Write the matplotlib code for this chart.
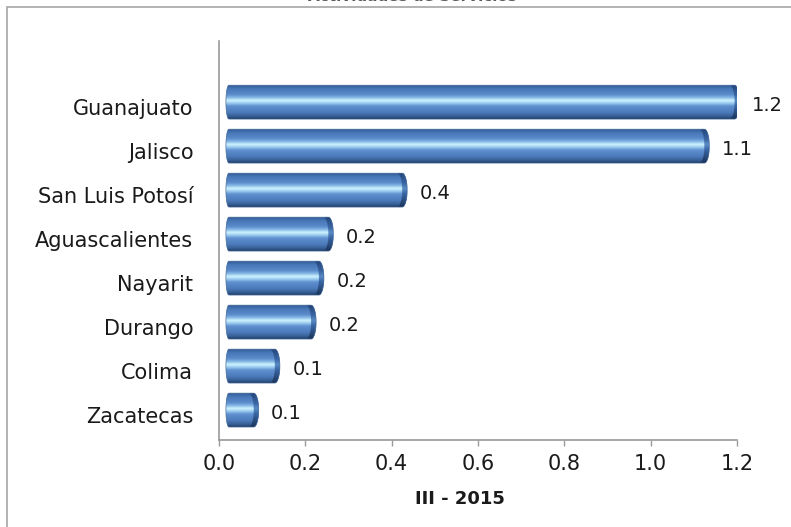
import numpy as np
import matplotlib
matplotlib.use("Agg")
import matplotlib.pyplot as plt
from matplotlib.path import Path
from matplotlib.patches import PathPatch, Rectangle
from matplotlib.colors import LinearSegmentedColormap
import matplotlib.transforms as mtransforms

# ---------------- data ----------------
states = ["Guanajuato", "Jalisco", "San Luis Potosí", "Aguascalientes",
          "Nayarit", "Durango", "Colima", "Zacatecas"]
values = [1.19, 1.12, 0.42, 0.249, 0.227, 0.209, 0.125, 0.076]
xticks = [0.0, 0.2, 0.4, 0.6, 0.8, 1.0, 1.2]
title_text = "Actividades de Servicios"
xlabel_text = "III - 2015"

# ---------------- figure ----------------
W, H, DPI = 791, 527, 100
fig = plt.figure(figsize=(W / DPI, H / DPI), dpi=DPI)
fig.patch.set_facecolor("white")

ax_l, ax_r, ax_t, ax_b = 219, 737, 41, 440
ax = fig.add_axes([ax_l / W, (H - ax_b) / H, (ax_r - ax_l) / W, (ax_b - ax_t) / H])
ax.set_facecolor("none")

n = len(states)
ypos = np.arange(n)[::-1]
bar_h = 0.77
left_off = 0.016
ylim = (-0.68, (n - 1) + 1.39)

ax.set_xlim(0, 1.2)
ax.set_ylim(*ylim)

bars = ax.barh(ypos, values, left=left_off, height=bar_h,
               color="none", edgecolor="none")

p0 = ax.transData.transform((0, 0))
p1 = ax.transData.transform((1, 1))
sx = p1[0] - p0[0]

body_cmap = LinearSegmentedColormap.from_list("cyl", [
    (0.00, "#2e5a92"),
    (0.10, "#4676b6"),
    (0.28, "#5b8bcb"),
    (0.38, "#8ebfe9"),
    (0.45, "#d2f6ff"),
    (0.52, "#a3d2f3"),
    (0.62, "#5f90d0"),
    (0.82, "#4a78b8"),
    (0.94, "#33598e"),
    (1.00, "#1f3a63"),
])
cap_cmap = LinearSegmentedColormap.from_list("cap", [
    (0.00, "#24457a"),
    (0.30, "#3a66a3"),
    (0.45, "#5a8cc6"),
    (0.60, "#3a67a5"),
    (1.00, "#1b3459"),
])
grad = np.linspace(0, 1, 256).reshape(-1, 1)


def clipped_gradient(path, cmap, extent, z):
    clip = PathPatch(path, transform=ax.transData, facecolor="none", edgecolor="none")
    ax.add_patch(clip)
    im = ax.imshow(grad, cmap=cmap, extent=extent, origin="upper",
                   aspect="auto", interpolation="bicubic", zorder=z)
    im.set_clip_path(clip)


for rect, v in zip(bars.patches, values):
    x0 = rect.get_x()
    x1 = x0 + rect.get_width()
    yb = rect.get_y()
    yt = yb + rect.get_height()
    yc = (yb + yt) / 2
    hh = (yt - yb) / 2
    wr = 5.0 / sx
    wl = 3.0 / sx
    cin = 5.0 / sx
    tt = np.linspace(-np.pi / 2, np.pi / 2, 40)
    pts = [(x0 + wl, yb), (x1 - wr, yb)]
    pts += [(x1 - wr + wr * np.cos(t), yc + hh * np.sin(t)) for t in tt]
    pts.append((x0 + wl, yt))
    pts += [(x0 + wl + wl * np.cos(t), yc + hh * np.sin(t))
            for t in np.linspace(np.pi / 2, 3 * np.pi / 2, 30)]
    pts.append(pts[0])
    body = Path(pts)
    clipped_gradient(body, body_cmap, [x0, x1, yb, yt], 2)

    # darker cap crescent at the right end
    cpts = [(x1 - wr + wr * np.cos(t), yc + hh * np.sin(t)) for t in tt]
    cpts += [(x1 - wr - cin + wr * np.cos(t), yc + hh * np.sin(t)) for t in tt[::-1]]
    cpts.append(cpts[0])
    cap = Path(cpts)
    clipped_gradient(cap, cap_cmap, [x1 - wr - cin - wr, x1, yb, yt], 3)

    ax.add_patch(PathPatch(body, facecolor="none", edgecolor="#44699a",
                           lw=0.5, zorder=4))
    ax.annotate(f"{v:.1f}", xy=(x1, yc), xytext=(9, -2.5),
                textcoords="offset points", ha="left", va="center",
                fontsize=14, color="#1a1a1a", annotation_clip=False)

ax.set_xlim(0, 1.2)
ax.set_ylim(*ylim)

for s in ["top", "right"]:
    ax.spines[s].set_visible(False)
for s in ["left", "bottom"]:
    ax.spines[s].set_color("#9a9a9a")
    ax.spines[s].set_linewidth(1.2)

ax.set_xticks(xticks)
ax.set_xticklabels([f"{t:.1f}" for t in xticks])
ax.tick_params(axis="x", direction="out", length=4.3, width=1.0, color="#9a9a9a",
               pad=6, labelsize=15, labelcolor="#1a1a1a")
ax.set_yticks(ypos)
ax.set_yticklabels(states)
ax.tick_params(axis="y", length=0, pad=18.5, labelsize=15, labelcolor="#1a1a1a")
shift = mtransforms.ScaledTranslation(0, -5 / DPI, fig.dpi_scale_trans)
for lab in ax.get_yticklabels():
    lab.set_transform(lab.get_transform() + shift)

ax.set_xlabel(xlabel_text, fontsize=13, fontweight="bold", color="#1a1a1a")
ax.xaxis.set_label_coords(0.465, -0.125)
ax.xaxis.label.set_va("top")

fig.add_artist(Rectangle((7 / W, -0.05), 1.2, (H - 6.5) / H + 0.05,
                         transform=fig.transFigure, fill=False,
                         edgecolor="#a6a6a6", lw=1.2))
# title: only its lower edge shows at the top of the reference image
fig.text(412 / W, (H - 1) / H, title_text, ha="center", va="baseline",
         fontsize=11, fontweight="bold", color="#595959")

fig.savefig("out.png", dpi=DPI)
